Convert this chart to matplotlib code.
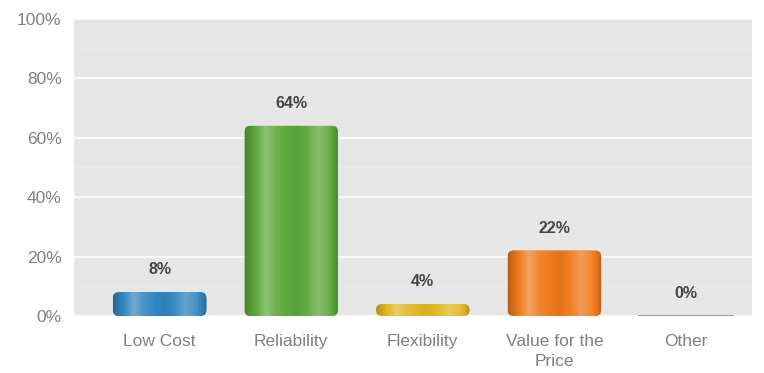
import numpy as np
import matplotlib
matplotlib.use("Agg")
from matplotlib import pyplot as plt
from matplotlib.patches import FancyBboxPatch
from matplotlib.colors import to_rgb

plt.rcParams['font.family'] = ['Liberation Sans', 'DejaVu Sans']

categories = ["Low Cost", "Reliability", "Flexibility", "Value for the\nPrice", "Other"]
values = [8, 64, 4, 22, 0]
colors = ["#3486c0", "#5ea83c", "#e2b825", "#ee7a1c", "#a0a0a0"]
yticks = [0, 20, 40, 60, 80, 100]

def shade(c, f):
    c = np.array(to_rgb(c))
    if f >= 0:
        return c + (1 - c) * f
    return c * (1 + f)

fig = plt.figure(figsize=(7.64, 3.73), dpi=100)
ax = fig.add_axes([0.097, 0.153, 0.887, 0.796])
ax.set_facecolor("#e6e6e6")
ax.set_xlim(-0.65, len(categories) - 0.5)
ax.set_ylim(0, 100)

ax.set_yticks(yticks)
ax.set_yticklabels([str(t) + "%" for t in yticks])
ax.set_yticks(range(10, 100, 20), minor=True)
ax.grid(axis="y", which="major", color="white", linewidth=1.2)
ax.grid(axis="y", which="minor", color="#ebebeb", linewidth=0.8)
ax.set_axisbelow(True)
ax.set_xticks(range(len(categories)))
ax.set_xticklabels(categories, linespacing=1.4)
ax.tick_params(axis="both", which="both", length=0, colors="#808080", labelsize=12.5)
ax.tick_params(axis="x", pad=13)
ax.tick_params(axis="y", pad=9)
for s in ax.spines.values():
    s.set_visible(False)

w = 0.71
# gradient profile across the bar width
prof = np.array([-0.22, 0.0, 0.3, 0.1, 0.0, -0.05, 0.05, 0.25, 0.1, -0.2])
xs = np.linspace(0, 1, len(prof))
xx = np.linspace(0, 1, 200)
p = np.interp(xx, xs, prof)
for i, (v, c) in enumerate(zip(values, colors)):
    if v > 0:
        patch = FancyBboxPatch((i - w / 2, 0), w, v,
                               boxstyle="round,pad=0,rounding_size=0.045",
                               mutation_aspect=45, facecolor=c, edgecolor="none")
        ax.add_patch(patch)
        img = np.array([[shade(c, f) for f in p]])
        im = ax.imshow(img, extent=(i - w / 2, i + w / 2, 0, v), aspect="auto",
                       interpolation="bilinear", zorder=2)
        im.set_clip_path(patch)
    else:
        ax.plot([i - w / 2, i + w / 2], [v, v], color=c, linewidth=1.5, zorder=2)
    ax.text(i, v + 5, str(v) + "%", ha="center", va="bottom", fontsize=11.5,
            fontweight="bold", color="#454545")

ax.set_aspect("auto")
fig.savefig("out.png", dpi=100)
